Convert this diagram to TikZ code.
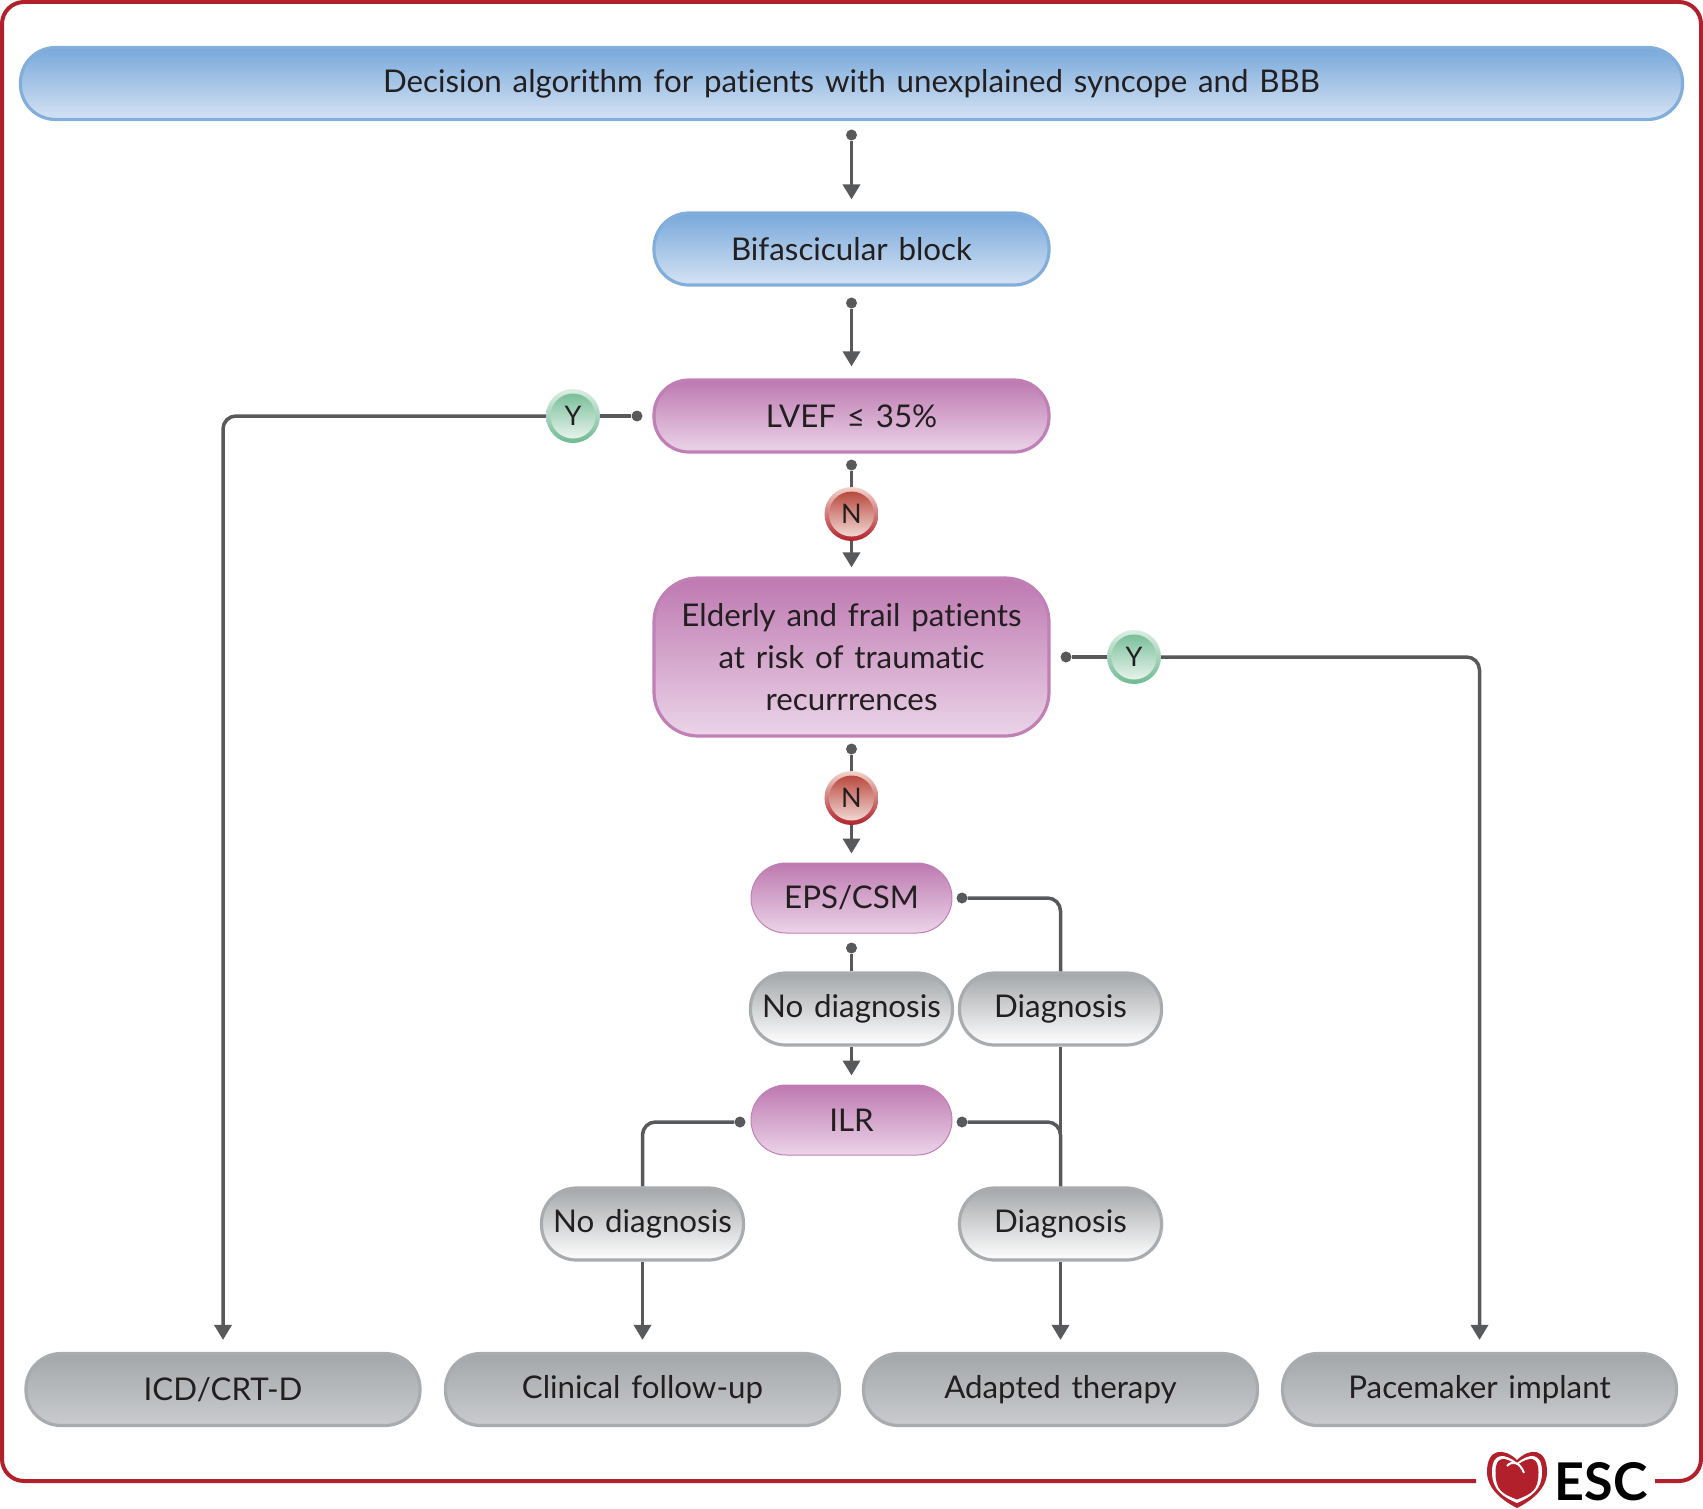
\documentclass[tikz,border=0pt]{standalone}
\usepackage{fontspec}
\setmainfont[WordSpace=1.35,Ligatures=NoCommon]{Lato}
\usetikzlibrary{arrows.meta}
\definecolor{framered}{HTML}{B2212B}
\definecolor{linegrey}{HTML}{58595B}
\definecolor{inktext}{HTML}{231F20}
\definecolor{blueline}{HTML}{82AEDC}
\definecolor{bluetop}{HTML}{78A8DA}
\definecolor{bluelow}{HTML}{D5E3F4}
\definecolor{plumline}{HTML}{C07FB5}
\definecolor{plumtop}{HTML}{BE79B1}
\definecolor{plumlow}{HTML}{EBD4E8}
\definecolor{ashline}{HTML}{A9ACAF}
\definecolor{ashtop}{HTML}{A4A7AA}
\definecolor{ashlow}{HTML}{C9CBCE}
\definecolor{yesring}{HTML}{DCEDE3}
\definecolor{yestop}{HTML}{6FBA92}
\definecolor{yeslow}{HTML}{F2F8F4}
\definecolor{noring}{HTML}{F2D3CB}
\definecolor{notop}{HTML}{B33B30}
\definecolor{nolow}{HTML}{F7E6E1}
\newcommand{\heartshape}[1]{(1517,1508-#1) .. controls (1505-#1*0.4,1502-#1) and (1487+#1,1490) .. (1487+#1,1472) .. controls (1487+#1,1447+#1) and (1505,1448+#1) .. (1517,1460+#1*0.6) .. controls (1529,1448+#1) and (1547-#1,1447+#1) .. (1547-#1,1472) .. controls (1547-#1,1490) and (1529+#1*0.4,1502-#1) .. (1517,1508-#1) -- cycle}

\begin{document}
\begin{tikzpicture}[
      x=1pt, y=-1pt,
      every node/.style={text=inktext, font=\fontsize{31.3}{42}\selectfont, align=center},
      pill/.style={rectangle, rounded corners=35pt, line width=3.2pt, minimum height=72pt, inner sep=0pt},
      headbox/.style={pill, draw=blueline, top color=bluetop, bottom color=bluelow},
      askbox/.style={pill, draw=plumline, top color=plumtop, bottom color=plumlow},
      testbox/.style={askbox, line width=1pt, minimum width=201pt, minimum height=70pt},
      resultbox/.style={pill, draw=ashline, top color=ashtop, bottom color=white, minimum width=202pt},
      endbox/.style={pill, draw=ashline, top color=ashtop, bottom color=ashlow, minimum width=394pt},
      dot/.style={circle, fill=linegrey, inner sep=0pt, minimum size=11pt},
      bubble/.style={circle, inner sep=0pt, minimum size=54pt, font=\fontsize{27}{32}\selectfont},
      yesnode/.style={bubble, top color=yesring, bottom color=yestop,
        path picture={\shade[top color=yestop, bottom color=yeslow] (path picture bounding box.center) circle (22.5pt);}},
      nonode/.style={bubble, top color=noring, bottom color=framered,
        path picture={\shade[top color=notop, bottom color=nolow] (path picture bounding box.center) circle (22.5pt);}},
      link/.style={draw=linegrey, line width=3.5pt, rounded corners=13pt},
      flow/.style={link, -{Triangle[length=15pt,width=17pt]}, shorten >=12pt}
    ]

    \useasboundingbox (0,0) rectangle (1703,1509);

    % outer frame, left open where the logo sits
    \draw[framered, line width=4pt, rounded corners=22pt]
      (1476,1481) -- (2,1481) -- (2,2) -- (1701,2) -- (1701,1481) -- (1655,1481);

    % the question boxes down the middle
    \node[headbox, minimum width=1662pt] (title) at (851.5,83.5) {Decision algorithm for patients with unexplained syncope and BBB};
    \node[headbox, minimum width=395pt] (bifasc) at (851.5,249) {Bifascicular block};
    \node[askbox, minimum width=395pt] (lvef) at (851.5,416) {LVEF ≤ 35\%};
    \node[askbox, minimum width=395pt, minimum height=158pt, rounded corners=44pt] (frail) at (851.5,657)
      {Elderly and frail patients\\at risk of traumatic\\recurrrences};
    \node[testbox] (eps) at (851.5,898) {EPS/CSM};
    \node[testbox] (ilr) at (851.5,1120) {ILR};

    % results of the two tests
    \node[resultbox] (nodiagA) at (851.5,1009) {No diagnosis};
    \node[resultbox] (diagA) at (1060.5,1009) {Diagnosis};
    \node[resultbox] (nodiagB) at (642.5,1224) {No diagnosis};
    \node[resultbox] (diagB) at (1060.5,1224) {Diagnosis};

    % the four outcomes along the bottom
    \node[endbox] (icd) at (223,1389.5) {ICD/CRT-D};
    \node[endbox] (followup) at (642.5,1389.5) {Clinical follow-up};
    \node[endbox] (therapy) at (1060.5,1389.5) {Adapted therapy};
    \node[endbox] (pacemaker) at (1479.5,1389.5) {Pacemaker implant};

    % Y and N bubbles
    \node[yesnode] (yesA) at (573,416) {Y};
    \node[yesnode] (yesB) at (1134,657) {Y};
    \node[nonode] (noA) at (851.5,514) {N};
    \node[nonode] (noB) at (851.5,798) {N};

    % start dots of the connectors
    \node[dot] (titleout) at (851.5,135) {};
    \node[dot] (bifascout) at (851.5,303) {};
    \node[dot] (lvefdown) at (851.5,465) {};
    \node[dot] (lvefleft) at (637,416) {};
    \node[dot] (fraildown) at (851.5,749) {};
    \node[dot] (frailright) at (1066,657) {};
    \node[dot] (epsdown) at (851.5,948) {};
    \node[dot] (epsright) at (962,898) {};
    \node[dot] (ilrleft) at (740,1122) {};
    \node[dot] (ilrright) at (962,1122) {};

    % connectors
    \draw[flow] (titleout) -- (bifasc);
    \draw[flow] (bifascout) -- (lvef);
    \draw[link] (lvefdown) -- (noA);
    \draw[flow, shorten >=9pt] (noA) -- (frail);
    \draw[link] (lvefleft) -- (yesA);
    \draw[flow] (yesA) -| (icd);
    \draw[link] (fraildown) -- (noB);
    \draw[flow, shorten >=9pt] (noB) -- (eps);
    \draw[link] (frailright) -- (yesB);
    \draw[flow] (yesB) -| (pacemaker);
    \draw[link] (epsdown) -- (nodiagA);
    \draw[flow, shorten >=9pt] (nodiagA) -- (ilr);
    \draw[link] (epsright) -| (diagA);
    \draw[link] (diagA) -- (diagB);
    \draw[link] (ilrright) -| (diagB);
    \draw[link] (ilrleft) -| (nodiagB);
    \draw[flow] (nodiagB) -- (followup);
    \draw[flow] (diagB) -- (therapy);

    % ESC logo
    \fill[framered] \heartshape{0};
    \fill[white] \heartshape{5};
    \fill[framered] \heartshape{8.5};
    \draw[white, line width=2pt] (1507,1466) .. controls (1512,1460) and (1520,1462) .. (1524,1473);
    \node[font=\fontsize{52}{52}\selectfont\bfseries, text=black, inner sep=0pt] (esc) at (1601,1482) {ESC};
\end{tikzpicture}
\end{document}
